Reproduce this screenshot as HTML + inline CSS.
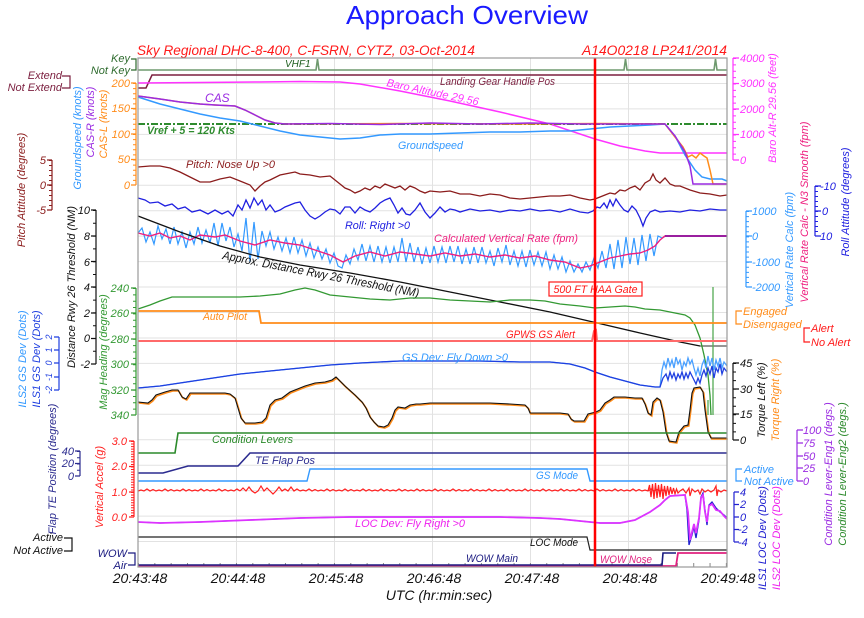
<!DOCTYPE html>
<html>
<head>
<meta charset="utf-8">
<style>
html,body{margin:0;padding:0;background:#fff;}
svg{display:block;}
text{font-family:"Liberation Sans",Arial,sans-serif;}
.i{font-style:italic;}
</style>
</head>
<body>
<svg width="864" height="618" viewBox="0 0 864 618" xmlns="http://www.w3.org/2000/svg">
<rect x="0" y="0" width="864" height="618" fill="#fff"/>

<!-- Titles -->
<text x="467" y="24" font-size="26" fill="#1a1aff" text-anchor="middle" textLength="242" lengthAdjust="spacingAndGlyphs">Approach Overview</text>
<text class="i" x="137" y="55" font-size="14" fill="#ff1a1a" textLength="338" lengthAdjust="spacingAndGlyphs">Sky Regional DHC-8-400, C-FSRN, CYTZ, 03-Oct-2014</text>
<text class="i" x="582" y="55" font-size="14" fill="#ff1a1a" textLength="145" lengthAdjust="spacingAndGlyphs">A14O0218  LP241/2014</text>

<!-- Grid -->
<g stroke="#e2e2e2" stroke-width="1" fill="none">
<path d="M138,83.45H727M138,108.9H727M138,134.35H727M138,159.8H727M138,185.25H727M138,210.7H727M138,236.15H727M138,261.6H727M138,287.05H727M138,312.5H727M138,337.95H727M138,363.4H727M138,388.85H727M138,414.3H727M138,439.75H727M138,465.2H727M138,490.65H727M138,516.1H727M138,541.55H727"/>
<path d="M236.5,58V567M334.5,58V567M432.5,58V567M530.5,58V567M628.5,58V567"/>
</g>
<line x1="138" y1="565" x2="727" y2="565" stroke="#888" stroke-width="4" stroke-dasharray="1 15.33"/>

<!-- VHF1 -->
<path d="M138,70H316L317.5,59L319,70H624L625.5,59L627,70H714L715.5,59L717,70H727" fill="none" stroke="#6f9a6f" stroke-width="1.6"/>
<text class="i" x="285" y="67" font-size="10" fill="#1f5f1f">VHF1</text>

<!-- Landing gear -->
<path d="M138,88H146L152,75H727" fill="none" stroke="#7b1f3f" stroke-width="1.5"/>
<text class="i" x="440" y="85" font-size="11" fill="#7b1f3f" textLength="115" lengthAdjust="spacingAndGlyphs">Landing Gear Handle Pos</text>

<!-- Baro altitude -->
<path d="M138,83L200,82.5L260,82L300,81.5L340,82L360,84L400,91L450,101L500,112L550,124L595,139L620,146L645,151L660,153L727,153" fill="none" stroke="#ff33ff" stroke-width="1.5"/>
<text class="i" font-size="11" fill="#ff33ff" transform="translate(386,86) rotate(12)" textLength="94" lengthAdjust="spacingAndGlyphs">Baro Altitude 29.56</text>

<!-- Vref -->
<line x1="138" y1="124" x2="727" y2="124" stroke="#2e8b2e" stroke-width="2" stroke-dasharray="7 2 2 2"/>
<text class="i" x="147" y="134" font-size="11" font-weight="bold" fill="#2e8b2e" textLength="88" lengthAdjust="spacingAndGlyphs">Vref + 5 = 120 Kts</text>

<!-- Groundspeed -->
<path d="M138,97L160,104L180,109L200,114L220,118L240,121L260,126L280,131L300,135L320,137L340,139L360,138L380,135L400,134L430,134L460,133L490,132L520,132L550,131L570,131L590,129L610,127L630,126L650,125L665,124L675,136L685,155L695,170L702,177L710,179L722,179L727,181" fill="none" stroke="#3399ff" stroke-width="1.5"/>
<text class="i" x="398" y="149" font-size="11" fill="#3399ff" textLength="65" lengthAdjust="spacingAndGlyphs">Groundspeed</text>

<!-- CAS-L orange -->
<path d="M138,96L160,99L180,102L200,104L215,105L235,106L245,110L255,115L265,120L275,123L285,124L400,123.5L500,124L600,123.5L665,124L675,137L683,147L688,157L692,155L696,158L700,153L704,156L707,158L710,170L713,184L727,184" fill="none" stroke="#ff8c1a" stroke-width="1.5"/>
<!-- CAS-R purple -->
<path d="M138,96L160,99L180,102L200,104L215,105L235,106L245,110L255,115L265,120L275,123L285,124L330,123.5L380,124.5L430,123L480,124L530,123L580,124L665,124L675,136L685,152L690,166L693,184L727,184" fill="none" stroke="#9a2be2" stroke-width="1.5"/>
<text class="i" x="205" y="102" font-size="12" fill="#9a2be2">CAS</text>

<!-- Pitch -->
<path d="M138,167L150,166L160,166L170,168L180,172L190,177L200,182L210,182L220,179L230,177L240,181L250,185L255,191L260,186L265,182L270,180L280,175L290,173L295,172L300,174L310,175L320,177L330,176L335,180L340,184L345,188L350,190L355,193L360,191L365,188L370,190L375,186L380,188L385,184L390,186L395,188L400,186L405,190L410,186L415,188L420,191L425,193L430,191L440,192L450,191L460,194L470,194L480,196L490,194L500,195L510,198L520,199L530,198L540,197L550,196L560,196L570,195L580,198L590,200L595,199L600,197L605,195L610,193L615,194L620,190L625,191L630,188L635,186L640,190L645,183L650,180L653,174L656,180L660,183L665,178L670,184L675,186L680,186L690,190L700,193L710,194L720,196L727,195" fill="none" stroke="#8b1c1c" stroke-width="1.3"/>
<text class="i" x="186" y="168" font-size="11" fill="#8b1c1c" textLength="89" lengthAdjust="spacingAndGlyphs">Pitch: Nose Up &gt;0</text>

<!-- Roll -->
<path d="M138,198L145,200L150,203L158,202L165,206L172,204L178,209L185,207L192,212L200,210L208,214L215,210L222,214L228,211L233,216L238,205L242,210L246,200L250,208L254,198L258,205L262,200L266,210L270,205L275,212L280,210L285,207L290,205L295,203L300,202L305,210L310,216L315,219L320,216L325,212L330,209L335,210L340,214L345,207L350,207L355,213L360,207L365,210L370,212L375,208L380,203L385,200L390,198L394,205L398,213L402,208L406,214L410,215L415,210L420,203L425,212L430,218L435,213L440,207L445,212L450,209L455,210L460,212L470,209L480,211L490,210L500,212L510,210L520,211L530,209L540,211L550,210L560,212L570,209L580,212L588,213L593,211L597,207L600,208L604,203L607,208L610,200L613,206L616,199L620,205L624,210L628,212L632,206L636,210L640,218L643,226L646,218L650,212L655,210L660,212L670,211L680,212L690,210L700,211L710,209L720,210L727,210" fill="none" stroke="#2020e0" stroke-width="1.3"/>
<text class="i" x="345" y="229" font-size="11" fill="#2020e0" textLength="65" lengthAdjust="spacingAndGlyphs">Roll: Right &gt;0</text>

<!-- Vertical rate noisy -->
<path d="M138,233L142,228L146,242L150,232L154,244L158,226L162,239L166,229L170,244L174,227L178,244L182,232L186,248L190,232L194,244L198,227L202,243L206,230L210,243L214,223L218,246L222,223L226,241L230,227L234,247L238,234L242,251L246,218L250,262L254,222L258,259L262,231L266,246L270,232L274,249L278,237L282,251L286,238L290,253L294,237L298,253L302,240L306,256L310,243L314,258L318,247L322,259L326,249L330,263L334,253L338,266L342,268L346,255L350,264L354,249L358,260L362,244L366,261L370,246L374,262L378,246L382,262L386,247L390,263L394,247L398,262L402,238L406,262L410,243L414,262L418,247L422,264L426,248L430,263L434,246L438,262L442,247L446,263L450,246L454,262L458,246L462,264L466,249L470,264L474,247L478,263L482,247L486,263L490,251L494,266L498,248L502,262L506,245L510,265L514,251L518,266L522,251L526,267L530,250L534,265L538,252L542,266L546,252L550,269L554,255L558,269L562,257L566,272L570,261L574,272L578,264L582,272L586,262L590,270L594,258L598,268L602,251L606,268L610,244L614,269L618,240L622,268L626,237L630,264L634,238L638,265L642,235L646,261L650,234L654,256L658,236L662,238L666,236L727,236" fill="none" stroke="#3399ff" stroke-width="1.2"/>
<!-- Vertical rate smooth -->
<path d="M138,233L150,236L160,233L170,238L180,236L190,240L200,235L215,237L225,235L240,241L255,245L270,240L285,243L300,245L315,250L330,255L343,262L355,256L370,252L385,256L400,252L415,254L430,256L445,253L460,256L475,254L490,257L505,255L520,258L535,256L550,260L565,262L580,268L590,266L600,262L610,258L620,256L630,254L640,253L648,250L655,246L660,240L665,236L727,236" fill="none" stroke="#ee1f7f" stroke-width="1.4"/>
<path d="M665,236L727,236" fill="none" stroke="#9a1f9f" stroke-width="2"/>
<text class="i" x="434" y="242" font-size="11" fill="#ee1f7f" textLength="144" lengthAdjust="spacingAndGlyphs">Calculated Vertical Rate (fpm)</text>

<!-- Distance -->
<path d="M138,216L180,232L220,246L260,257L300,265L350,273L400,282L450,292L500,302L550,312L593,322L640,333L680,342L700,346L727,346" fill="none" stroke="#111" stroke-width="1.3"/>
<path d="M700,346L727,346" fill="none" stroke="#888" stroke-width="1.5"/>
<text class="i" font-size="12" fill="#111" transform="translate(222,259) rotate(11)" textLength="200" lengthAdjust="spacingAndGlyphs">Approx. Distance Rwy 26 Threshold (NM)</text>

<!-- Mag heading -->
<path d="M138,309L150,305L160,301L172,297L185,297L200,297L220,297L240,297L260,296L280,294L295,290L305,288L315,290L330,295L350,297L370,299L390,300L410,298L430,298L450,300L470,301L490,302L510,300L530,300L545,301L560,304L580,306L595,308L610,307L625,306L635,307L645,309L660,310L675,313L685,315L690,318L695,325L700,338L704,355L708,375L710,395L711,415" fill="none" stroke="#339933" stroke-width="1.3"/>
<path d="M713,287V415M708,400V415" fill="none" stroke="#55aa55" stroke-width="1.3"/>

<!-- Auto pilot -->
<path d="M138,311H259L261,323H727" fill="none" stroke="#ff8c1a" stroke-width="1.8"/>
<text class="i" x="203" y="320" font-size="11" fill="#ff8c1a" textLength="44" lengthAdjust="spacingAndGlyphs">Auto Pilot</text>

<!-- GPWS -->
<path d="M138,341H592L594,331L596,330L597,341H727" fill="none" stroke="#ff6a6a" stroke-width="2"/>
<text class="i" x="506" y="338" font-size="11" fill="#ff1a1a" textLength="69" lengthAdjust="spacingAndGlyphs">GPWS GS Alert</text>

<!-- 500 FT box -->
<rect x="549" y="282" width="93" height="14" fill="#fff" stroke="#ff1a1a" stroke-width="1.2"/>
<text class="i" x="595.5" y="293" font-size="11" fill="#ff1a1a" text-anchor="middle" textLength="84" lengthAdjust="spacingAndGlyphs">500 FT HAA Gate</text>

<!-- GS dev -->
<path d="M138,388L160,386L180,383L200,380L220,377L240,374L260,372L280,370L300,368L330,365L360,363L400,361L440,361L480,361L520,362L550,362L570,364L585,368L595,372L610,377L625,381L640,385L655,387L660,387L662,370L664,362L666,368L668,358L670,366L672,360L674,368L676,357L678,364L680,360L682,370L684,362L686,366L688,358L690,364L692,360L694,368L696,375L698,368L700,376L702,365L704,360L706,368L708,356L710,366L712,358L714,370L716,360L718,366L720,358L722,368L724,362L727,366" fill="none" stroke="#4aa0ff" stroke-width="1.3"/>
<path d="M138,388L160,386L180,383L200,380L220,377L240,374L260,372L280,370L300,368L330,365L360,363L400,361L440,361L480,361L520,362L550,362L570,364L585,368L595,372L610,377L625,381L640,385L655,387L660,387L663,378L666,374L668,380L670,372L672,378L674,373L676,380L678,374L680,378L682,372L684,379L686,373L688,378L690,372L692,376L694,380L696,384L698,378L700,383L702,375L704,370L706,376L708,368L710,374L712,366L714,378L716,368L718,372L720,364L722,374L724,368L727,372" fill="none" stroke="#1f3fe0" stroke-width="1.3"/>
<text class="i" x="402" y="361" font-size="11" fill="#3399ff" textLength="106" lengthAdjust="spacingAndGlyphs">GS Dev: Fly Down &gt;0</text>

<!-- Torque -->
<path transform="translate(0.8,1)" d="M138,402L148,403L152,400L156,395L165,392L172,390L178,390L182,397L186,399L190,393L200,393L215,393L225,393L230,394L235,398L238,408L241,418L245,423L255,423L262,422L266,418L270,405L275,400L282,398L290,392L300,388L305,386L315,383L325,382L332,380L336,377L345,386L355,395L362,402L366,408L370,417L374,422L378,426L384,427L388,425L392,418L395,410L398,407L405,408L410,405L416,404L420,404L430,403L450,403L470,403L490,403L510,404L525,405L528,408L530,413L545,413L560,413L568,414L571,419L574,421L584,421L588,414L596,412L600,410L605,403L610,400L614,397L625,397L635,398L642,398L645,404L648,413L651,415L653,402L657,398L660,400L663,412L666,432L669,441L676,442L679,432L684,426L688,425L690,410L692,393L694,388L700,387L703,392L705,410L708,432L711,438L727,438" fill="none" stroke="#ff8c1a" stroke-width="1.6"/>
<path d="M138,402L148,403L152,400L156,395L165,392L172,390L178,390L182,397L186,399L190,393L200,393L215,393L225,393L230,394L235,398L238,408L241,418L245,423L255,423L262,422L266,418L270,405L275,400L282,398L290,392L300,388L305,386L315,383L325,382L332,380L336,377L345,386L355,395L362,402L366,408L370,417L374,422L378,426L384,427L388,425L392,418L395,410L398,407L405,408L410,405L416,404L420,404L430,403L450,403L470,403L490,403L510,404L525,405L528,408L530,413L545,413L560,413L568,414L571,419L574,421L584,421L588,414L596,412L600,410L605,403L610,400L614,397L625,397L635,398L642,398L645,404L648,413L651,415L653,402L657,398L660,400L663,412L666,432L669,441L676,442L679,432L684,426L688,425L690,410L692,393L694,388L700,387L703,392L705,410L708,432L711,438L727,438" fill="none" stroke="#111" stroke-width="1.1"/>

<!-- Condition levers -->
<path d="M138,453H175L178,433H727" fill="none" stroke="#2b8a2b" stroke-width="1.6"/>
<text class="i" x="212" y="443" font-size="11" fill="#2b8a2b" textLength="81" lengthAdjust="spacingAndGlyphs">Condition Levers</text>

<!-- TE flap -->
<path d="M138,473H163L188,466H238L250,453H727" fill="none" stroke="#2b2b8f" stroke-width="1.6"/>
<text class="i" x="255" y="464" font-size="11" fill="#2b2b8f" textLength="60" lengthAdjust="spacingAndGlyphs">TE Flap Pos</text>

<!-- GS mode -->
<path d="M138,481H307L310,469H587L590,481H727" fill="none" stroke="#3399ff" stroke-width="1.4"/>
<text class="i" x="536" y="479" font-size="11" fill="#3399ff" textLength="42" lengthAdjust="spacingAndGlyphs">GS Mode</text>

<!-- Vertical accel -->
<g fill="none" stroke="#ff2020" stroke-width="1.2">
<path d="M138,491 l3,-1 l3,1 l3,-2 l3,2 l3,-1.5 l3,1.5 l3,-1 l3,1 l3,-2 l3,2 l3,-1.5 l3,1.5 l3,-1 l3,1 l3,-2 l3,2 l3,-1.5 l3,1.5 l3,-1 l3,1 l3,-2 l3,2 l3,-1.5 l3,1.5 l3,-1 l3,1 l3,-2 l3,2 l3,-1.5 l3,1.5 l3,-1 l3,1 l3,-2 l3,2"/>
<path d="M240,491 l3,-3 l3,3 l3,-4 l3,4 l3,2 l3,-2 l3,-5 l3,5 l3,-3 l3,3 l3,3 l3,-3 l3,-4 l3,4 l3,-2 l3,2 l3,-4 l3,4 l3,-2 l3,2"/>
<path d="M300,491 l3,-1 l3,1 l3,-2 l3,2 l3,-1.5 l3,1.5 l3,-1 l3,1 l3,-2 l3,2 l3,-1.5 l3,1.5 l3,-1 l3,1 l3,-2 l3,2 l3,-1.5 l3,1.5 l3,-1 l3,1 l3,-2 l3,2 l3,-1.5 l3,1.5 l3,-1 l3,1 l3,-2 l3,2 l3,-1.5 l3,1.5 l3,-1 l3,1 l3,-2 l3,2 l3,-1.5 l3,1.5 l3,-1 l3,1 l3,-2 l3,2 l3,-1.5 l3,1.5 l3,-1 l3,1 l3,-2 l3,2 l3,-1.5 l3,1.5 l3,-1 l3,1 l3,-2 l3,2 l3,-1.5 l3,1.5 l3,-1 l3,1 l3,-2 l3,2 l3,-1.5 l3,1.5 l3,-1 l3,1 l3,-2 l3,2 l3,-1.5 l3,1.5 l3,-1 l3,1 l3,-2 l3,2 l3,-1.5 l3,1.5 l3,-1 l3,1 l3,-2 l3,2 l3,-1.5 l3,1.5 l3,-1 l3,1 l3,-2 l3,2 l3,-1.5 l3,1.5 l3,-1 l3,1 l3,-2 l3,2 l3,-1.5 l3,1.5 l3,-1 l3,1 l3,-2 l3,2 l3,-1.5 l3,1.5 l3,-1 l3,1 l3,-2 l3,2 l3,-1.5 l3,1.5 l3,-1 l3,1 l3,-2 l3,2 l3,-1.5 l3,1.5 l3,-1 l3,1 l3,-2 l3,2 l3,-1.5 l3,1.5 l3,-1 l3,1 l3,-2 l3,2 l3,-1.5 l3,1.5 l3,-1 l3,1"/>
<path d="M648,491L649.5,485L651,497L652.5,484L654,499L655.5,483L657,498L658.5,485L660,497L661.5,484L663,499L664.5,486L666,496L667.5,486L669,495L670.5,487L672,494L673.5,488L675,494L676.5,489L678,493L680,491"/>
<path d="M680,491L683,489L686,493L689,488L690,496L692,489L695,492L698,490L700,494L702,489L705,492L708,490L711,492L714,490L716,486L717,496L718,490L721,492L724,490L727,491"/>
</g>

<!-- LOC dev -->
<path d="M138,522L160,523L200,522L250,520L300,518L350,517L400,517L450,517L500,517L540,518L560,519L580,521L600,523L620,523L635,520L650,512L660,505L665,500L670,496L685,495L687,510L689,545L692,535L694,527L696,538L699,520L701,497L703,493L705,510L707,525L709,505L712,502L716,508L720,512L724,515L727,518" fill="none" stroke="#2020d0" stroke-width="1.3"/>
<path d="M138,522L160,523L200,522L250,520L300,518L350,517L400,517L450,517L500,517L540,518L560,519L580,521L600,523L620,523L635,520L650,512L660,505L665,500L670,496L685,495L688,512L690,540L692,532L694,524L696,533L699,518L701,498L703,495L705,512L707,522L709,506L712,504L716,510L720,511L724,516L727,519" fill="none" stroke="#dd33ff" stroke-width="1.8"/>
<text class="i" x="355" y="527" font-size="11" fill="#ee22ee" textLength="110" lengthAdjust="spacingAndGlyphs">LOC Dev: Fly Right &gt;0</text>

<!-- LOC mode -->
<path d="M138,537H587L590,550H727" fill="none" stroke="#222" stroke-width="1.2"/>
<text class="i" x="530" y="546" font-size="11" fill="#111" textLength="48" lengthAdjust="spacingAndGlyphs">LOC Mode</text>

<!-- WOW -->
<path d="M138,566H676L678,553H727" fill="none" stroke="#e0207f" stroke-width="1.8"/>
<path d="M138,565H662L663,553H676" fill="none" stroke="#1a1a80" stroke-width="1.6"/>
<text class="i" x="466" y="562" font-size="11" fill="#1a1a80" textLength="52" lengthAdjust="spacingAndGlyphs">WOW Main</text>
<text class="i" x="600" y="563" font-size="11" fill="#e0207f" textLength="52" lengthAdjust="spacingAndGlyphs">WOW Nose</text>

<!-- Red event line -->
<line x1="595" y1="58" x2="595" y2="567" stroke="#ff0000" stroke-width="2.5"/>

<!-- Plot frame -->
<rect x="138" y="58" width="589" height="509" fill="none" stroke="#9a9a9a" stroke-width="1.2"/>

<!-- X axis labels -->
<g font-size="14" fill="#111" text-anchor="middle" font-style="italic">
<text x="140" y="583">20:43:48</text>
<text x="238" y="583">20:44:48</text>
<text x="336" y="583">20:45:48</text>
<text x="434" y="583">20:46:48</text>
<text x="532" y="583">20:47:48</text>
<text x="630" y="583">20:48:48</text>
<text x="728" y="583">20:49:48</text>
</g>
<text class="i" x="439" y="600" font-size="14" fill="#111" text-anchor="middle">UTC (hr:min:sec)</text>

<!-- ===== LEFT AXES ===== -->
<path d="M131,59H136V70H131" fill="none" stroke="#2e6b2e" stroke-width="1.2"/>
<text class="i" x="130" y="62" font-size="11" fill="#2e6b2e" text-anchor="end">Key</text>
<text class="i" x="130" y="74" font-size="11" fill="#2e6b2e" text-anchor="end">Not Key</text>
<path d="M62,76H70V88H62" fill="none" stroke="#7b1f3f" stroke-width="1.2"/>
<text class="i" x="62" y="79" font-size="11" fill="#7b1f3f" text-anchor="end">Extend</text>
<text class="i" x="62" y="91" font-size="11" fill="#7b1f3f" text-anchor="end">Not Extend</text>

<!-- CAS axis -->
<g stroke="#ff8c1a" fill="none" stroke-width="1.2">
<path d="M136,83V185M131,83H136M131,108.5H136M131,134H136M131,159.5H136M131,185H136"/>
<line x1="134.5" y1="83" x2="134.5" y2="185" stroke-width="3" stroke-dasharray="1 4.1"/>
</g>
<g class="i" font-size="11" fill="#ff8c1a" text-anchor="end">
<text x="130" y="87">200</text><text x="130" y="112">150</text><text x="130" y="138">100</text><text x="130" y="163">50</text><text x="130" y="189">0</text>
</g>
<text class="i" font-size="11" fill="#3399ff" text-anchor="middle" transform="translate(81,138) rotate(-90)">Groundspeed (knots)</text>
<text class="i" font-size="11" fill="#9a2be2" text-anchor="middle" transform="translate(94,122) rotate(-90)">CAS-R (knots)</text>
<text class="i" font-size="11" fill="#ff8c1a" text-anchor="middle" transform="translate(107,124) rotate(-90)">CAS-L (knots)</text>

<!-- Pitch axis -->
<g stroke="#8b1c1c" fill="none" stroke-width="1.2">
<path d="M52,160V210M47,160H52M47,185H52M47,210H52"/>
<line x1="50.5" y1="160" x2="50.5" y2="210" stroke-width="3" stroke-dasharray="1 4"/>
</g>
<g class="i" font-size="11" fill="#8b1c1c" text-anchor="end">
<text x="46" y="164">5</text><text x="46" y="189">0</text><text x="46" y="214">-5</text>
</g>
<text class="i" font-size="11" fill="#8b1c1c" text-anchor="middle" transform="translate(25,190) rotate(-90)">Pitch Attitude (degrees)</text>

<!-- Distance axis -->
<g stroke="#111" fill="none" stroke-width="1.2">
<path d="M96,210V364M91,210H96M91,236H96M91,261.5H96M91,287H96M91,313H96M91,338.5H96M91,364H96"/>
<line x1="94.5" y1="210" x2="94.5" y2="364" stroke-width="3" stroke-dasharray="1 11.8"/>
</g>
<g class="i" font-size="11" fill="#111" text-anchor="end">
<text x="90" y="214">10</text><text x="90" y="240">8</text><text x="90" y="266">6</text><text x="90" y="291">4</text><text x="90" y="317">2</text><text x="90" y="342">0</text><text x="90" y="368">-2</text>
</g>
<text class="i" font-size="11" fill="#111" text-anchor="middle" transform="translate(75,287) rotate(-90)">Distance Rwy 26 Threshold (NM)</text>

<!-- Mag heading axis -->
<g stroke="#339933" fill="none" stroke-width="1.2">
<path d="M136,288V415M131,288H136M131,313H136M131,339H136M131,364H136M131,390H136M131,415H136"/>
<line x1="134.5" y1="288" x2="134.5" y2="415" stroke-width="3" stroke-dasharray="1 5.35"/>
</g>
<g class="i" font-size="11" fill="#339933" text-anchor="end">
<text x="129" y="292">240</text><text x="129" y="317">260</text><text x="129" y="343">280</text><text x="129" y="368">300</text><text x="129" y="394">320</text><text x="129" y="419">340</text>
</g>
<text class="i" font-size="11" fill="#339933" text-anchor="middle" transform="translate(107,352) rotate(-90)">Mag Heading (degrees)</text>

<!-- GS dev axis -->
<g stroke="#1f3fe0" fill="none" stroke-width="1.2">
<path d="M59,337V390M54,337H59M54,350H59M54,363H59M54,377H59M54,390H59"/>
</g>
<g class="i" font-size="9" fill="#1f3fe0" text-anchor="middle">
<text transform="translate(52,337) rotate(-90)">2</text>
<text transform="translate(52,350) rotate(-90)">1</text>
<text transform="translate(52,363) rotate(-90)">0</text>
<text transform="translate(52,377) rotate(-90)">-1</text>
<text transform="translate(52,390) rotate(-90)">-2</text>
</g>
<text class="i" font-size="11" fill="#3399ff" text-anchor="middle" transform="translate(26,359) rotate(-90)">ILS2 GS Dev (Dots)</text>
<text class="i" font-size="11" fill="#1f3fe0" text-anchor="middle" transform="translate(40,359) rotate(-90)">ILS1 GS Dev (Dots)</text>

<!-- Flap axis -->
<g stroke="#2b2b8f" fill="none" stroke-width="1.2">
<path d="M80,451V476M75,451H80M75,463.5H80M75,476H80"/>
<line x1="78.5" y1="451" x2="78.5" y2="476" stroke-width="3" stroke-dasharray="1 5.25"/>
</g>
<g class="i" font-size="11" fill="#2b2b8f" text-anchor="end">
<text x="74" y="455">40</text><text x="74" y="467">20</text><text x="74" y="480">0</text>
</g>
<text class="i" font-size="11" fill="#2b2b8f" text-anchor="middle" transform="translate(56,469) rotate(-90)">Flap TE Position (degrees)</text>

<!-- Vertical accel axis -->
<g stroke="#ff2020" fill="none" stroke-width="1.2">
<path d="M134,441V517M129,441H134M129,466.5H134M129,492H134M129,517H134"/>
<line x1="132.5" y1="441" x2="132.5" y2="517" stroke-width="3" stroke-dasharray="1 1.55"/>
</g>
<g class="i" font-size="11" fill="#ff2020" text-anchor="end">
<text x="127" y="445">3.0</text><text x="127" y="470">2.0</text><text x="127" y="496">1.0</text><text x="127" y="521">0.0</text>
</g>
<text class="i" font-size="11" fill="#ff2020" text-anchor="middle" transform="translate(103,487) rotate(-90)">Vertical Accel (g)</text>

<path d="M64,538H72V551H64" fill="none" stroke="#111" stroke-width="1.2"/>
<text class="i" x="63" y="541" font-size="11" fill="#111" text-anchor="end">Active</text>
<text class="i" x="63" y="554" font-size="11" fill="#111" text-anchor="end">Not Active</text>
<path d="M128,553H135V565H128" fill="none" stroke="#1a1a80" stroke-width="1.2"/>
<text class="i" x="127" y="557" font-size="11" fill="#1a1a80" text-anchor="end">WOW</text>
<text class="i" x="127" y="569" font-size="11" fill="#1a1a80" text-anchor="end">Air</text>

<!-- ===== RIGHT AXES ===== -->
<g stroke="#ff33ff" fill="none" stroke-width="1.2">
<path d="M733,58V160M733,58H739M733,83.5H739M733,109H739M733,134.5H739M733,160H739"/>
<line x1="734.5" y1="58" x2="734.5" y2="160" stroke-width="3" stroke-dasharray="1 5.375"/>
</g>
<g class="i" font-size="11" fill="#ff33ff">
<text x="740" y="62">4000</text><text x="740" y="87">3000</text><text x="740" y="113">2000</text><text x="740" y="138">1000</text><text x="740" y="164">0</text>
</g>
<text class="i" font-size="11" fill="#ff33ff" text-anchor="middle" transform="translate(776,108) rotate(-90)">Baro Alt-R 29.56 (feet)</text>

<g stroke="#3399ff" fill="none" stroke-width="1.2">
<path d="M746,211V287M746,211H752M746,236H752M746,262H752M746,287H752"/>
<line x1="747.5" y1="211" x2="747.5" y2="287" stroke-width="3" stroke-dasharray="1 4.07"/>
</g>
<g class="i" font-size="11" fill="#3399ff">
<text x="752" y="215">1000</text><text x="752" y="240">0</text><text x="752" y="266">-1000</text><text x="752" y="291">-2000</text>
</g>
<text class="i" font-size="11" fill="#3399ff" text-anchor="middle" transform="translate(793,250) rotate(-90)">Vertical Rate Calc (fpm)</text>
<text class="i" font-size="11" fill="#ee1f7f" text-anchor="middle" transform="translate(808,212) rotate(-90)">Vertical Rate Calc - N3 Smooth (fpm)</text>

<g stroke="#2020e0" fill="none" stroke-width="1.2">
<path d="M815,186V236M815,186H821M815,211H821M815,236H821"/>
<line x1="816.5" y1="186" x2="816.5" y2="236" stroke-width="3" stroke-dasharray="1 4"/>
</g>
<g class="i" font-size="11" fill="#2020e0">
<text x="820" y="190">-10</text><text x="822" y="215">0</text><text x="820" y="240">10</text>
</g>
<text class="i" font-size="11" fill="#2020e0" text-anchor="middle" transform="translate(849,202) rotate(-90)">Roll Attitude (degrees)</text>

<path d="M742,311H736V324H742" fill="none" stroke="#ff8c1a" stroke-width="1.2"/>
<text class="i" x="743" y="315" font-size="11" fill="#ff8c1a">Engaged</text>
<text class="i" x="743" y="328" font-size="11" fill="#ff8c1a">Disengaged</text>
<path d="M810,328H804V342H810" fill="none" stroke="#ff1a1a" stroke-width="1.2"/>
<text class="i" x="811" y="332" font-size="11" fill="#ff1a1a">Alert</text>
<text class="i" x="811" y="346" font-size="11" fill="#ff1a1a">No Alert</text>

<g stroke="#111" fill="none" stroke-width="1.2">
<path d="M733,363V440M733,363H739M733,389H739M733,414H739M733,440H739"/>
<line x1="734.5" y1="363" x2="734.5" y2="440" stroke-width="3" stroke-dasharray="1 7.55"/>
</g>
<g class="i" font-size="11" fill="#111">
<text x="740" y="367">45</text><text x="740" y="393">30</text><text x="740" y="418">15</text><text x="740" y="444">0</text>
</g>
<text class="i" font-size="11" fill="#111" text-anchor="middle" transform="translate(765,400) rotate(-90)">Torque Left (%)</text>
<text class="i" font-size="11" fill="#ff8c1a" text-anchor="middle" transform="translate(779,400) rotate(-90)">Torque Right (%)</text>

<g stroke="#9a2be2" fill="none" stroke-width="1.2">
<path d="M797,430V481M797,430H803M797,443H803M797,456H803M797,468H803M797,481H803"/>
</g>
<g class="i" font-size="11" fill="#9a2be2">
<text x="803" y="434">100</text><text x="803" y="447">75</text><text x="803" y="460">50</text><text x="803" y="472">25</text><text x="803" y="485">0</text>
</g>
<text class="i" font-size="11" fill="#9a2be2" text-anchor="middle" transform="translate(832,474) rotate(-90)">Condition Lever-Eng1 (degs.)</text>
<text class="i" font-size="11" fill="#2b8a2b" text-anchor="middle" transform="translate(846,474) rotate(-90)">Condition Lever-Eng2 (degs.)</text>

<path d="M742,469H736V481H742" fill="none" stroke="#3399ff" stroke-width="1.2"/>
<text class="i" x="744" y="473" font-size="11" fill="#3399ff">Active</text>
<text class="i" x="744" y="485" font-size="11" fill="#3399ff">Not Active</text>

<g stroke="#2020d0" fill="none" stroke-width="1.2">
<path d="M734,492V542M734,492H739M734,504.5H739M734,517H739M734,529.5H739M734,542H739"/>
</g>
<g class="i" font-size="11" fill="#2020d0">
<text x="740" y="496">4</text><text x="740" y="508">2</text><text x="740" y="521">0</text><text x="738" y="533">-2</text><text x="738" y="546">-4</text>
</g>
<text class="i" font-size="11" fill="#2020d0" text-anchor="middle" transform="translate(766,538) rotate(-90)">ILS1 LOC Dev (Dots)</text>
<text class="i" font-size="11" fill="#ee22ee" text-anchor="middle" transform="translate(780,538) rotate(-90)">ILS2 LOC Dev (Dots)</text>

</svg>
</body>
</html>
